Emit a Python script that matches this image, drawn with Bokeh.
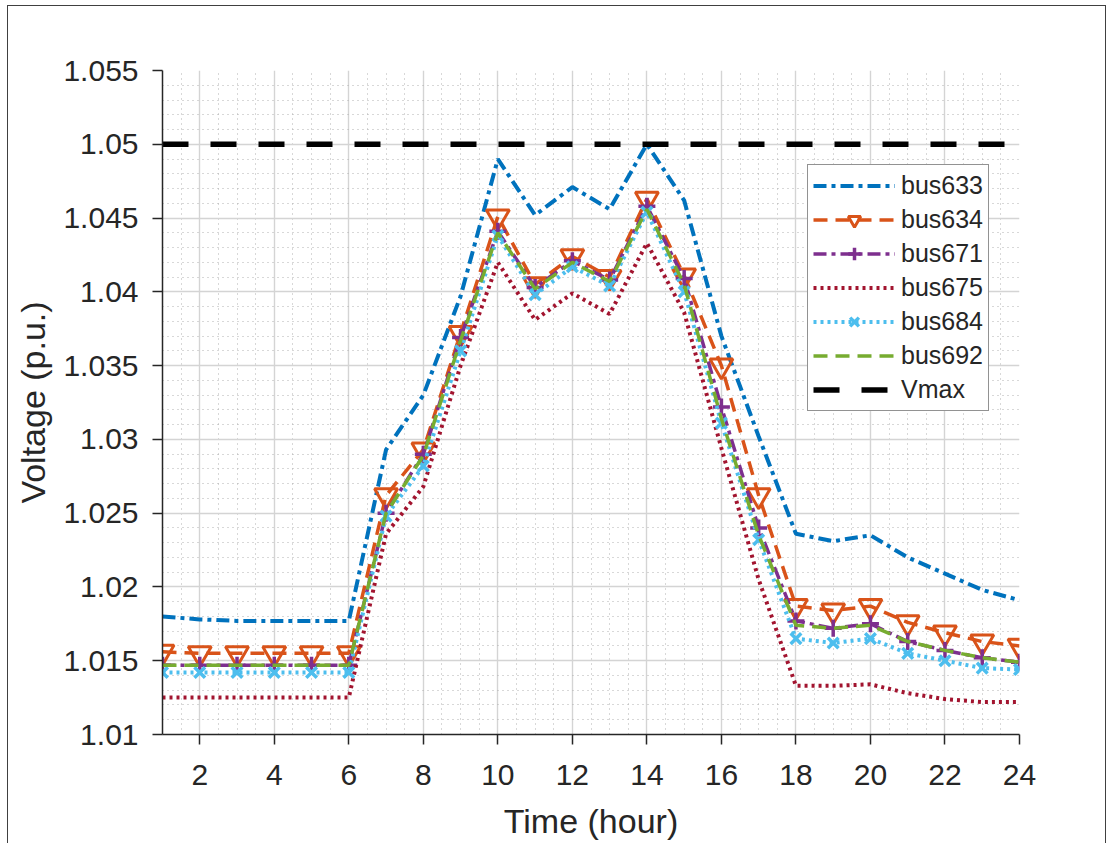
from bokeh.plotting import figure
from bokeh.models import FixedTicker, Legend, LegendItem, Range1d, ColumnDataSource
from bokeh.embed import file_html
from bokeh.resources import INLINE
import numpy as np

hours = list(range(1, 25))
bus633 = [1.0180, 1.0178, 1.0177, 1.0177, 1.0177, 1.0177, 1.0293, 1.0330, 1.0397, 1.0490,
          1.0452, 1.0471, 1.0456, 1.0500, 1.0462, 1.0370, 1.0302, 1.0236, 1.0231, 1.0235,
          1.0220, 1.0209, 1.0198, 1.0191]
bus634 = [1.0156, 1.0155, 1.0155, 1.0155, 1.0155, 1.0155, 1.0262, 1.0293, 1.0372, 1.0451,
          1.0405, 1.0424, 1.0410, 1.0463, 1.0411, 1.0350, 1.0262, 1.0187, 1.0184, 1.0187,
          1.0176, 1.0169, 1.0163, 1.0160]
bus671 = [1.0147, 1.0147, 1.0147, 1.0147, 1.0147, 1.0147, 1.0250, 1.0290, 1.0369, 1.0441,
          1.0403, 1.0421, 1.0408, 1.0458, 1.0409, 1.0322, 1.0240, 1.0177, 1.0172, 1.0175,
          1.0163, 1.0157, 1.0152, 1.0149]
bus675 = [1.0125, 1.0125, 1.0125, 1.0125, 1.0125, 1.0125, 1.0236, 1.0268, 1.0350, 1.0420,
          1.0381, 1.0399, 1.0385, 1.0433, 1.0386, 1.0294, 1.0205, 1.0133, 1.0133, 1.0134,
          1.0128, 1.0124, 1.0122, 1.0122]
bus684 = [1.0142, 1.0142, 1.0142, 1.0142, 1.0142, 1.0142, 1.0248, 1.0282, 1.0360, 1.0438,
          1.0398, 1.0417, 1.0404, 1.0454, 1.0400, 1.0311, 1.0232, 1.0165, 1.0162, 1.0165,
          1.0155, 1.0150, 1.0145, 1.0144]
bus692 = [1.0147, 1.0147, 1.0147, 1.0147, 1.0147, 1.0147, 1.0250, 1.0289, 1.0367, 1.0440,
          1.0402, 1.0420, 1.0407, 1.0456, 1.0405, 1.0314, 1.0235, 1.0174, 1.0172, 1.0174,
          1.0163, 1.0157, 1.0152, 1.0149]
vmax = [1.05] * 24

x_ticks = [2, 4, 6, 8, 10, 12, 14, 16, 18, 20, 22, 24]
y_ticks = [1.01, 1.015, 1.02, 1.025, 1.03, 1.035, 1.04, 1.045, 1.05, 1.055]
y_tick_labels = ["1.01", "1.015", "1.02", "1.025", "1.03", "1.035", "1.04", "1.045", "1.05", "1.055"]

src = ColumnDataSource(dict(h=hours, b633=bus633, b634=bus634, b671=bus671, b675=bus675,
                            b684=bus684, b692=bus692, vmax=vmax))

FONT = "Liberation Sans"
TXT = "#262626"

p = figure(width=1099, height=838, output_backend="svg", toolbar_location=None,
           x_range=Range1d(1, 24), y_range=Range1d(1.01, 1.055),
           min_border_left=154, min_border_right=88, min_border_top=64, min_border_bottom=110)
p.margin = (5, 0, 0, 7)
p.styles = {"border-left": "1px solid #404040", "border-top": "1px solid #404040",
            "border-right": "1px solid #404040"}
p.outline_line_color = None
p.background_fill_color = "white"

p.xaxis.ticker = FixedTicker(ticks=x_ticks, minor_ticks=list(np.arange(1, 24.01, 0.5)))
p.yaxis.ticker = FixedTicker(ticks=y_ticks, minor_ticks=list(np.round(np.arange(1.01, 1.0551, 0.001), 4)))
p.yaxis.major_label_overrides = dict(zip(y_ticks, y_tick_labels))

for ax in (p.xaxis[0], p.yaxis[0]):
    ax.axis_line_color = TXT
    ax.axis_line_width = 1.5
    ax.major_tick_line_color = TXT
    ax.major_tick_line_width = 1.5
    ax.major_tick_out = 10
    ax.major_tick_in = 0
    ax.minor_tick_out = 0
    ax.minor_tick_in = 0
    ax.major_label_text_font = FONT
    ax.major_label_text_font_size = "30px"
    ax.major_label_text_color = TXT
    ax.axis_label_text_font = FONT
    ax.axis_label_text_font_size = "34px"
    ax.axis_label_text_font_style = "normal"
    ax.axis_label_text_color = TXT

p.xaxis.axis_label = "Time (hour)"
p.yaxis.axis_label = "Voltage (p.u.)"
p.yaxis.major_label_standoff = 14
p.xaxis.major_label_standoff = 20
p.yaxis.axis_label_standoff = 8
p.xaxis.axis_label_standoff = 14

for g in (p.xgrid[0], p.ygrid[0]):
    g.grid_line_color = "#d4d4d4"
    g.grid_line_width = 1.4
    g.minor_grid_line_color = "#b0b0b0"
    g.minor_grid_line_dash = "1 4"
    g.minor_grid_line_width = 1

r633 = p.line("h", "b633", source=src, color="#0072BD", line_width=4, line_dash="13 5 4 5")
r634 = p.line("h", "b634", source=src, color="#D95319", line_width=3.5, line_dash="14 8")
m634 = p.scatter("h", "b634", source=src, marker="inverted_triangle", size=23,
                 line_color="#D95319", fill_color=None, line_width=3)
r671 = p.line("h", "b671", source=src, color="#7E2F8E", line_width=3.5, line_dash="13 5 4 5")
m671 = p.scatter("h", "b671", source=src, marker="cross", size=17,
                 line_color="#7E2F8E", line_width=3.5)
r675 = p.line("h", "b675", source=src, color="#A2142F", line_width=4, line_dash="3 4")
r684 = p.line("h", "b684", source=src, color="#4DBEEE", line_width=4, line_dash="3 4")
m684 = p.scatter("h", "b684", source=src, marker="x", size=15,
                 line_color="#4DBEEE", line_width=3.5)
r692 = p.line("h", "b692", source=src, color="#77AC30", line_width=3.5, line_dash="14 8")
rv = p.line("h", "vmax", source=src, color="black", line_width=5.5, line_dash="26 22")

legend = Legend(items=[
    LegendItem(label="bus633", renderers=[r633]),
    LegendItem(label="bus634", renderers=[r634, m634]),
    LegendItem(label="bus671", renderers=[r671, m671]),
    LegendItem(label="bus675", renderers=[r675]),
    LegendItem(label="bus684", renderers=[r684, m684]),
    LegendItem(label="bus692", renderers=[r692]),
    LegendItem(label="Vmax", renderers=[rv]),
], location=(645, 323))
legend.border_line_color = TXT
legend.border_line_width = 1.5
legend.background_fill_color = "white"
legend.background_fill_alpha = 1
legend.label_text_font = FONT
legend.label_text_font_size = "25px"
legend.label_text_color = TXT
legend.glyph_width = 82
legend.glyph_height = 31
legend.spacing = 3
legend.padding = 5
legend.margin = 0
legend.label_standoff = 6
p.add_layout(legend, "center")

open("out.html", "w").write(file_html(p, INLINE))
